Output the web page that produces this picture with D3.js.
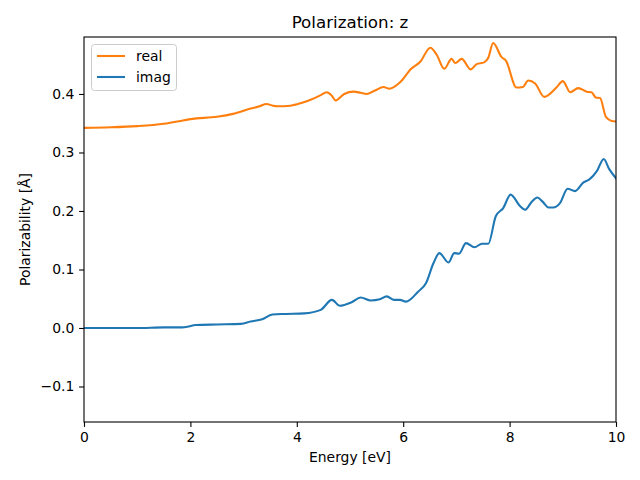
<!DOCTYPE html>
<html><head><meta charset="utf-8">
<script src="https://cdn.jsdelivr.net/npm/d3@7"></script>
<style>body{margin:0;background:#fff}svg{font-family:"DejaVu Sans",sans-serif}</style>
</head><body><svg id="c" width="640" height="480"></svg>
<script>
const realE = [0,0.5,1.0,1.5,1.88,2.0,2.5,2.8,3.13,3.3,3.43,3.55,3.63,3.88,4.1,4.26,4.45,4.56,4.65,4.73,4.89,5.07,5.20,5.31,5.47,5.63,5.74,5.94,6.15,6.32,6.51,6.63,6.77,6.91,6.98,7.10,7.27,7.38,7.52,7.60,7.69,7.85,7.93,8.13,8.25,8.35,8.48,8.65,8.89,9.00,9.14,9.29,9.45,9.54,9.62,9.70,9.81,9.92,10];
const realV = [0.342,0.343,0.345,0.349,0.355,0.357,0.361,0.366,0.375,0.379,0.383,0.380,0.379,0.380,0.385,0.390,0.398,0.403,0.398,0.389,0.400,0.404,0.402,0.400,0.406,0.412,0.409,0.420,0.443,0.455,0.479,0.467,0.443,0.460,0.453,0.460,0.442,0.451,0.454,0.462,0.487,0.463,0.457,0.411,0.412,0.423,0.418,0.395,0.412,0.422,0.403,0.410,0.404,0.403,0.394,0.393,0.361,0.354,0.353];
const imagE = [0,0.5,1.0,1.5,1.85,1.94,2.1,2.5,2.95,3.13,3.35,3.54,3.8,4.14,4.45,4.66,4.81,5.03,5.2,5.39,5.56,5.69,5.83,5.94,6.05,6.28,6.43,6.57,6.68,6.85,6.96,7.05,7.18,7.34,7.48,7.60,7.74,7.88,8.02,8.19,8.29,8.41,8.52,8.62,8.73,8.82,8.95,9.09,9.23,9.39,9.50,9.64,9.77,9.87,10];
const imagV = [0.000,0.000,0.000,0.001,0.001,0.002,0.005,0.006,0.007,0.011,0.015,0.023,0.024,0.025,0.031,0.048,0.038,0.044,0.052,0.047,0.049,0.054,0.048,0.048,0.045,0.062,0.077,0.111,0.128,0.112,0.128,0.127,0.145,0.138,0.144,0.144,0.191,0.205,0.228,0.209,0.202,0.215,0.223,0.216,0.206,0.206,0.214,0.238,0.234,0.249,0.254,0.268,0.289,0.272,0.256];
const xTicks = [0,2,4,6,8,10];
const yTicks = [-0.1,0.0,0.1,0.2,0.3,0.4];
const seriesNames = ["real","imag"];
const seriesColors = ["#ff7f0e","#1f77b4"];

const svg = d3.select("#c");
const L=84, R=616, T=37, B=422;
const x = d3.scaleLinear().domain([0,10]).range([L,R]);
const y = d3.scaleLinear().domain([-0.1607,0.4974]).range([B,T]);

const clip = svg.append("clipPath").attr("id","pc").append("rect")
  .attr("x",L).attr("y",T).attr("width",R-L).attr("height",B-T);

const line = d3.line().x(d=>x(d[0])).y(d=>y(d[1])).curve(d3.curveMonotoneX);
const data = [d3.zip(realE,realV), d3.zip(imagE,imagV)];
const g = svg.append("g").attr("clip-path","url(#pc)");
data.forEach((d,i)=>{
  g.append("path").datum(d).attr("d",line).attr("fill","none")
   .attr("stroke",seriesColors[i]).attr("stroke-width",2.08).attr("stroke-linejoin","round").attr("stroke-linecap","square");
});

const xa = svg.append("g").attr("transform",`translate(0,${B})`)
  .call(d3.axisBottom(x).tickValues(xTicks).tickFormat(d3.format("d")).tickSize(4.9).tickPadding(4.8).tickSizeOuter(0));
const ya = svg.append("g").attr("transform",`translate(${L},0)`)
  .call(d3.axisLeft(y).tickValues(yTicks).tickFormat(d=>d3.format(".1f")(d).replace("-","\u2212")).tickSize(4.9).tickPadding(4.8).tickSizeOuter(0));
[xa,ya].forEach(a=>{
  a.select(".domain").remove();
  a.selectAll("line").attr("stroke","#000").attr("stroke-width",1.1);
  a.selectAll("text").attr("font-size","13.9px").attr("fill","#000").attr("font-family","DejaVu Sans");
});
svg.append("rect").attr("x",L).attr("y",T).attr("width",R-L).attr("height",B-T)
  .attr("fill","none").attr("stroke","#000").attr("stroke-width",1.1);

svg.append("text").attr("x",(L+R)/2).attr("y",28).attr("text-anchor","middle")
  .attr("font-size","16.7px").text("Polarization: z");
svg.append("text").attr("x",(L+R)/2).attr("y",462).attr("text-anchor","middle")
  .attr("font-size","13.9px").text("Energy [eV]");
svg.append("text").attr("transform",`translate(30,${(T+B)/2}) rotate(-90)`).attr("text-anchor","middle")
  .attr("font-size","13.9px").text("Polarizability [Å]");

const lg = svg.append("g");
lg.append("rect").attr("x",91.5).attr("y",44.5).attr("width",85).attr("height",46).attr("rx",3)
  .attr("fill","#fff").attr("fill-opacity",0.8).attr("stroke","#ccc").attr("stroke-width",1);
seriesNames.forEach((n,i)=>{
  const yy = 56 + i*21;
  lg.append("line").attr("x1",97).attr("x2",125).attr("y1",yy).attr("y2",yy)
    .attr("stroke",seriesColors[i]).attr("stroke-width",2.08);
  lg.append("text").attr("x",136).attr("y",yy+5).attr("font-size","13.9px").text(n);
});
</script></body></html>
